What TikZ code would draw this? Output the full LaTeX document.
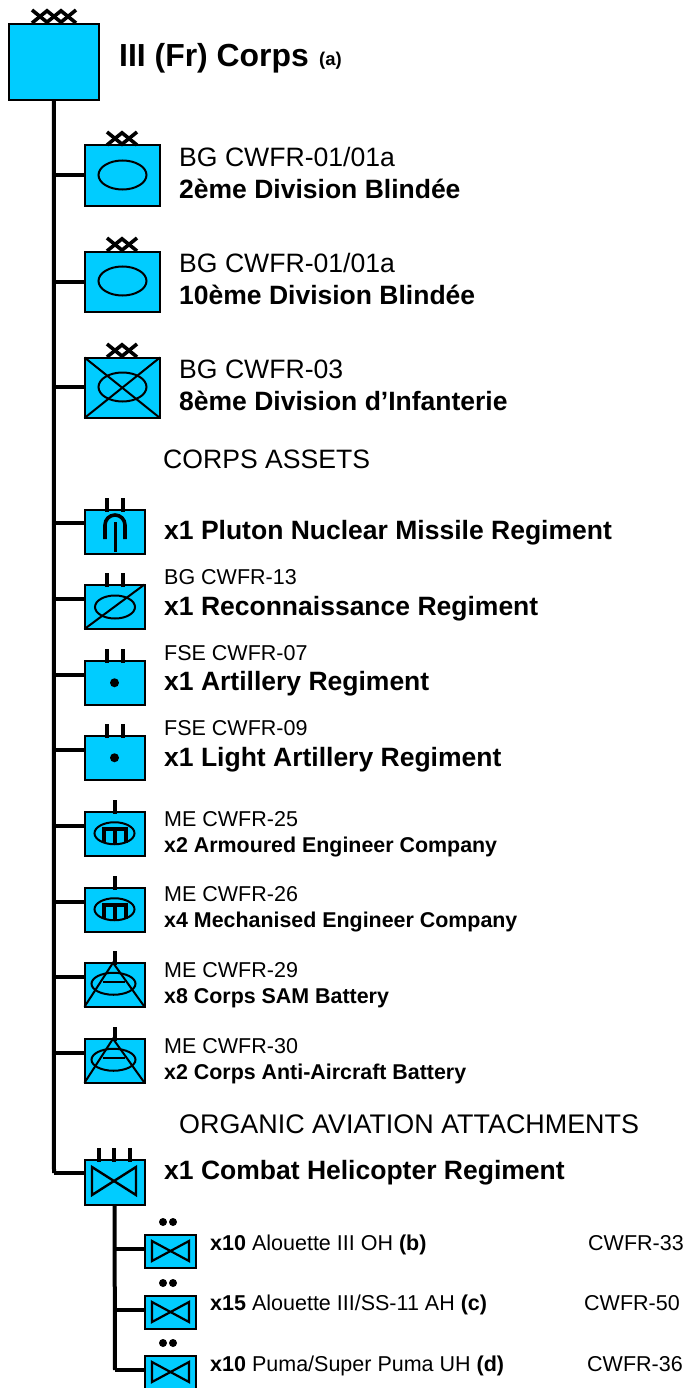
\documentclass[tikz,border=0pt]{standalone}
\usepackage{fontspec}
\setmainfont{Liberation Sans}
\definecolor{orbBlue}{HTML}{00CCFF}
\tikzset{
  orb box/.style={draw=black, fill=orbBlue, line width=2pt, rectangle, inner sep=0pt, outer sep=0pt, anchor=north west},
  orb line/.style={draw=black, line width=4pt},
  orb tick/.style={draw=black, line width=4pt},
  orb cross/.style={draw=black, line width=3.6pt},
  orb sym/.style={draw=black, line width=2pt},
  orb heavy/.style={draw=black, line width=3.6pt},
  orb big/.style={font=\bfseries\fontsize{26.5}{26.5}\selectfont, anchor=base west, inner sep=0pt},
  orb ref/.style={font=\fontsize{26.6}{26.6}\selectfont, anchor=base west, inner sep=0pt},
  orb small/.style={font=\fontsize{21.5}{21.5}\selectfont, anchor=base west, inner sep=0pt},
  orb note/.style={font=\bfseries\fontsize{21.4}{21.4}\selectfont, anchor=base west, inner sep=0pt},
  orb sub/.style={font=\fontsize{21.5}{21.5}\selectfont, anchor=base west, inner sep=0pt},
}
\begin{document}
\begin{tikzpicture}[x=1pt, y=-1pt]
  \useasboundingbox (0,0) rectangle (684,1388);
  % Corps box and trunk first, so the unit boxes paint over the branches
  \node[orb box, minimum width=90.5pt, minimum height=76pt] (corps) at (8.5,24.5) {};
  \coordinate (trunkend) at (54,1173);
  \draw[orb line, line join=miter] (corps.south) -- (trunkend);
  % Divisions
  \foreach \n/\y/\j in {divA/145/175,divB/251/282,divC/357/387} {
    \coordinate (j\n) at (54,\j);
    \node[orb box, minimum width=75.5pt, minimum height=60.5pt] (\n) at (84.5,\y+0.5) {};
    \draw[orb line] (j\n) -- (j\n -| \n.west);
    \draw[orb sym] (122.5,\y+30) ellipse (24 and 14.5);
    \foreach \c in {0,14} {
      \draw[orb cross] (107+\c,\y-13) -- (123+\c,\y);
      \draw[orb cross] (107+\c,\y) -- (123+\c,\y-13);
    }
  }
  \draw[orb sym] (divC.north west) -- (divC.south east);
  \draw[orb sym] (divC.south west) -- (divC.north east);
  % Corps assets
  \foreach \n/\y/\j in {plu/509/523,rec/584/599,art/660/675,lar/735/750,eng/811/826,mec/887/902,sam/962/977,aaa/1038/1053} {
    \coordinate (j\n) at (54,\j);
    \node[orb box, minimum width=60pt, minimum height=44.5pt] (\n) at (84.5,\y+0.5) {};
    \draw[orb line] (j\n) -- (j\n -| \n.west);
  }
  \foreach \n in {plu,rec,art,lar} {
    \draw[orb tick] ([xshift=-7.5pt,yshift=-2pt]\n.north) -- ++(0,-14);
    \draw[orb tick] ([xshift=8.5pt,yshift=-2pt]\n.north) -- ++(0,-14);
  }
  \foreach \n in {eng,mec,sam,aaa}
    \draw[orb tick] ([xshift=0.5pt,yshift=-2pt]\n.north) -- ++(0,-14);
  % Pluton missile
  \draw[orb heavy] (105,539) -- (105,525) arc[start angle=180, end angle=0, x radius=10, y radius=-10] -- (125,539);
  \draw[orb heavy, line width=3pt] (115,522) -- (115,552);
  % Reconnaissance
  \draw[orb sym] (115,607) ellipse (20 and 11.5);
  \draw[orb sym] (rec.south west) -- (rec.north east);
  % Artillery
  \foreach \n in {art,lar} \fill[black] (\n.center) circle (4.5);
  % Engineers
  \foreach \n in {eng,mec} {
    \begin{scope}[shift={(\n.center)}]
      \draw[orb sym] (0,-0.5) ellipse (20 and 11);
      \draw[orb heavy, line width=4pt] (-10.5,9) -- (-10.5,-5) -- (11.5,-5) -- (11.5,9);
      \draw[orb heavy, line width=4pt] (0.5,-5) -- (0.5,9);
    \end{scope}
  }
  % Air defence
  \foreach \n in {sam,aaa} {
    \begin{scope}[shift={(\n.center)}]
      \draw[orb sym] (-30,22) -- (-1.5,-22) -- (30,22);
      \draw[orb sym] (-1,-1) ellipse (22 and 11);
      \draw[orb sym, line width=2.4pt] (-12,-3) -- (10,-3);
    \end{scope}
  }
  % Helicopter regiment and its squadrons
  \coordinate (jhel) at (trunkend);
  \node[orb box, minimum width=60pt, minimum height=45pt] (hel) at (84.5,1159.5) {};
  \draw[orb line] (jhel) -- (jhel -| hel.west);
  \foreach \x in {-16,-1,15}
    \draw[orb tick] ([xshift=\x pt,yshift=-2pt]hel.north) -- ++(0,-14);
  \draw[orb sym, line width=2.4pt, line join=miter] (92,1167) -- (136,1195) -- (136,1167) -- (92,1195) -- cycle;
  \coordinate (subend) at (115,1370);
  \draw[orb line] (hel.south) -- (subend);
  \foreach \n/\y/\j in {sqA/1234/1249,sqB/1295/1310,sqC/1355/1370} {
    \coordinate (j\n) at (115,\j);
    \node[orb box, minimum width=51pt, minimum height=33pt] (\n) at (144.5,\y+0.5) {};
    \draw[orb line] (j\n) -- (j\n -| \n.west);
    \fill[black] (163,\y-12) circle (4);
    \fill[black] (173,\y-12) circle (4);
    \draw[orb sym, line width=2.2pt, line join=miter] (152,\y+7) -- (189,\y+27) -- (189,\y+7) -- (152,\y+27) -- cycle;
  }
  % Corps crosses
  \foreach \c in {0,14,28} {
    \draw[orb cross] (32+\c,10) -- (48+\c,23);
    \draw[orb cross] (32+\c,23) -- (48+\c,10);
  }
  % Labels
  \node[font=\bfseries\fontsize{31.9}{31.9}\selectfont, anchor=base west, inner sep=0pt] (corpsname) at (119,67) {III (Fr) Corps};
  \node[font=\bfseries\fontsize{18.5}{18.5}\selectfont, anchor=base west, inner sep=0pt] (corpsnote) at (319,66) {(a)};
  \foreach \n/\y/\a/\b in {A/167/BG CWFR-01\slash 01a/2ème Division Blindée,B/272/BG CWFR-01\slash 01a/10ème Division Blindée,C/378/BG CWFR-03/8ème Division d’Infanterie} {
    \node[orb ref] (ref\n) at (179,\y) {\a};
    \node[orb big] (name\n) at (179,\y+32) {\b};
  }
  \node[orb ref] (assets) at (163,468) {CORPS ASSETS};
  \node[orb big] (pluname) at (164,539) {x1 Pluton Nuclear Missile Regiment};
  \foreach \n/\y/\z/\a/\b in {rec/584/615/BG CWFR-13/x1 Reconnaissance Regiment,art/660/690/FSE CWFR-07/x1 Artillery Regiment,lar/735/766/FSE CWFR-09/x1 Light Artillery Regiment} {
    \node[orb small] (\n ref) at (164,\y) {\a};
    \node[orb big] (\n name) at (164,\z) {\b};
  }
  \foreach \n/\y/\z/\a/\b in {eng/826/852/ME CWFR-25/x2 Armoured Engineer Company,mec/901/927/ME CWFR-26/x4 Mechanised Engineer Company,sam/977/1003/ME CWFR-29/x8 Corps SAM Battery,aaa/1053/1079/ME CWFR-30/x2 Corps Anti-Aircraft Battery} {
    \node[orb small] (\n ref) at (164,\y) {\a};
    \node[orb note] (\n name) at (164,\z) {\b};
  }
  \node[orb ref, font=\fontsize{26.9}{26.9}\selectfont] (organic) at (179,1133) {ORGANIC AVIATION ATTACHMENTS};
  \node[orb big] (helname) at (164,1179) {x1 Combat Helicopter Regiment};
  \node[orb sub] (sqAname) at (210,1250) {\textbf{x10} Alouette III OH \textbf{(b)}};
  \node[orb sub] (sqBname) at (210,1310) {\textbf{x15} Alouette III/SS-11 AH \textbf{(c)}};
  \node[orb sub] (sqCname) at (210,1371) {\textbf{x10} Puma/Super Puma UH \textbf{(d)}};
  \node[orb sub] (sqAref) at (588,1250) {CWFR-33};
  \node[orb sub] (sqBref) at (584,1310) {CWFR-50};
  \node[orb sub] (sqCref) at (587,1371) {CWFR-36};
\end{tikzpicture}
\end{document}
